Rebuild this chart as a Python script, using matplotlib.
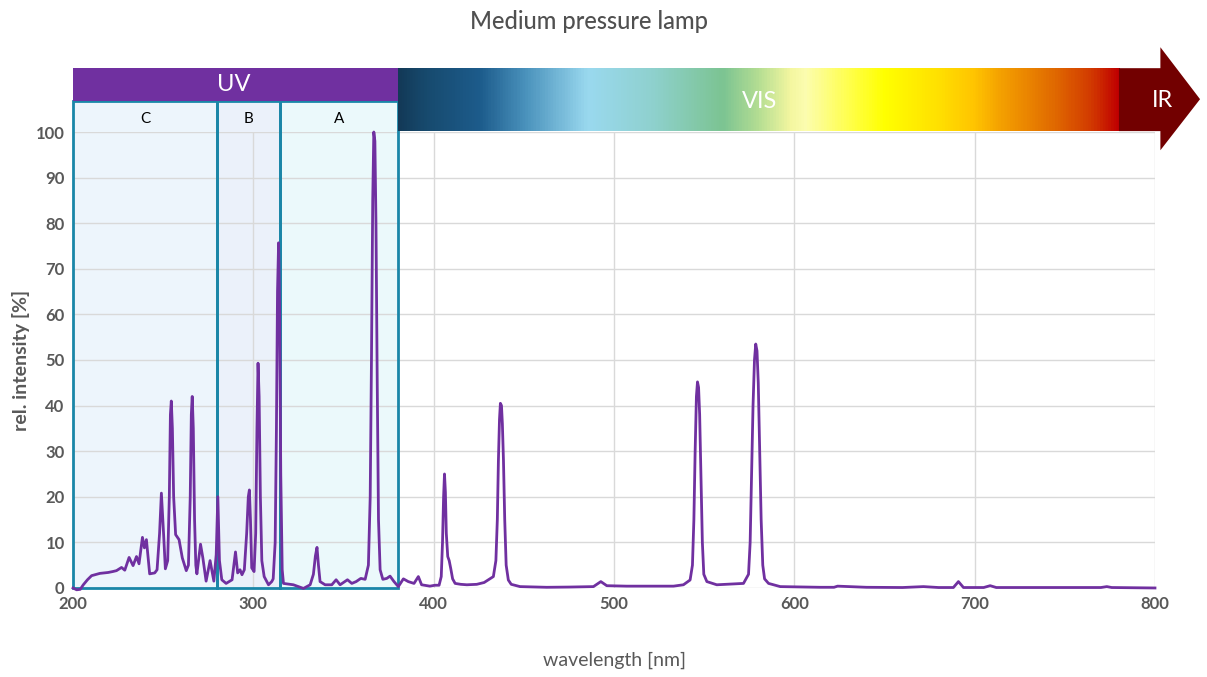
import numpy as np
import matplotlib
matplotlib.use('Agg')
import matplotlib.pyplot as plt
from matplotlib.colors import LinearSegmentedColormap
from matplotlib.patches import Rectangle, Polygon

plt.rcParams['font.family'] = ['Lato', 'DejaVu Sans']

# spectrum (wavelength nm, rel. intensity %)
wavelength = [
    200, 202, 204, 205.7, 208, 210.3, 213, 214.9, 217, 219.5, 222, 224.1, 226.9, 228.7,
    231.1, 233.3, 235.2, 236.6, 238.5, 239.6, 240.7, 242.5, 245.3, 246.6, 248, 249, 250.2,
    251.2, 252.5, 253.4, 254, 254.5, 255.1, 255.8, 256.9, 258.8, 260.6, 262.8,
    264, 265, 265.6, 266.1, 266.7, 267.4, 268.1, 268.7,
    270.7, 272, 273.8, 276, 278.1, 279.4, 280.3, 281.2, 282.5, 284.9, 288.2, 290.1, 291.3,
    292.6, 293.7, 295, 296.3, 297.2, 297.8, 298.4, 299.1,
    300.4, 301.3, 302, 302.6, 303.2, 303.9, 304.7, 306, 308.4, 310.2,
    311, 312.1, 312.8, 313.4, 314.0, 314.6, 315.2, 316, 316.7,
    322.2, 327.8, 331.5, 333.3, 334.4, 335.3, 336.1, 337, 339.8,
    343.5, 345.9, 348.1, 352.2, 354.6, 357, 359.6, 362,
    363.8, 364.8, 365.5, 366.2, 366.8, 367.4, 368.0, 368.7, 369.4, 370.3, 371.8,
    374, 375.8, 378, 380.4, 383.2, 385.9, 389.1, 391.5, 393.3, 397.9,
    400.7, 403, 404.2, 404.9, 405.5, 406.0, 406.5, 407.0, 407.8, 408.6, 409.5, 410.5, 411.9,
    415, 418.4, 423.9, 428,
    433.1, 434.5, 435.3, 435.9, 436.5, 437.0, 437.6, 438.1, 438.7, 439.4, 440.2, 441.4, 443,
    447.9, 462.7, 475, 488.6, 492.7, 496, 507, 515, 533, 538.5,
    542.2, 543.5, 544.3, 545.0, 545.7, 546.3, 546.9, 547.5, 548.2, 549.0, 549.8, 551.5,
    557, 567.2, 571.8,
    574.6, 575.5, 576.3, 577.1, 577.9, 578.6, 579.3, 580.0, 580.8, 581.6, 582.5, 583.5, 585.7,
    592.2, 614.4, 622, 624,
    640, 660, 671.6, 680, 688.2, 691, 693.8, 705, 708.6, 712, 740, 770, 773.3, 776, 800,
]
intensity = [
    0.0, -0.4, -0.3, 0.7, 1.8, 2.7, 3.0, 3.2, 3.3, 3.4, 3.6, 3.8, 4.5, 3.9,
    6.7, 4.9, 6.9, 5.3, 11.1, 8.8, 10.6, 3.1, 3.3, 4.0, 12.0, 20.8, 12.0,
    4.2, 6.0, 20.0, 38.0, 41.0, 35.0, 20.0, 11.7, 10.6, 6.6, 3.8,
    5.0, 20.0, 38.0, 42.0, 35.0, 15.0, 5.0, 3.1,
    9.6, 6.6, 1.5, 6.0, 1.5, 7.3, 20.0, 6.0, 1.8, 1.0, 1.8, 7.9, 3.3,
    4.0, 2.9, 4.0, 12.0, 20.0, 21.5, 15.0, 4.4,
    3.6, 12.0, 35.0, 49.3, 42.0, 20.0, 6.0, 2.5, 0.7, 1.4,
    2.0, 10.0, 35.0, 65.0, 75.7, 60.0, 25.0, 4.0, 1.0,
    0.7, -0.1, 0.7, 3.0, 7.0, 8.9, 5.0, 1.4, 0.7,
    0.7, 1.8, 0.7, 1.8, 1.0, 1.4, 2.1, 1.9,
    5.0, 20.0, 50.0, 85.0, 100.0, 98.0, 80.0, 45.0, 15.0, 4.0, 1.9,
    2.1, 2.6, 1.4, 0.3, 2.0, 1.4, 1.0, 2.5, 0.7, 0.4,
    0.6, 0.6, 2.5, 10.0, 20.0, 25.0, 21.0, 12.0, 6.9, 6.0, 4.2, 2.0, 1.0,
    0.8, 0.7, 0.8, 1.2,
    2.5, 6.0, 15.0, 28.0, 37.0, 40.5, 40.0, 36.0, 28.0, 15.0, 5.0, 1.75, 0.8,
    0.3, 0.15, 0.2, 0.3, 1.4, 0.5, 0.4, 0.4, 0.4, 0.7,
    1.75, 5.0, 15.0, 30.0, 42.0, 45.2, 44.0, 38.0, 25.0, 10.0, 3.0, 1.4,
    0.7, 0.9, 1.0,
    3.0, 10.0, 25.0, 40.0, 50.0, 53.5, 52.0, 45.0, 30.0, 15.0, 5.0, 2.0, 1.0,
    0.3, 0.15, 0.15, 0.4,
    0.15, 0.1, 0.3, 0.1, 0.1, 1.4, 0.1, 0.1, 0.5, 0.1, 0.1, 0.1, 0.3, 0.1, 0.0,
]

# UV sub-bands and spectral ranges
uv_bands = ['C', 'B', 'A']
uv_edges = [200, 280, 315, 380]
vis_range = [380, 780]

purple = '#7030A0'
teal = '#1A86A8'
gray = '#595959'

fig = plt.figure(figsize=(12.07, 6.77), dpi=100)
ax = fig.add_axes([0.0605, 0.1315, 0.8964, 0.6735])
ax.set_xlim(200, 800)
ax.set_ylim(0, 100)

ax.set_xticks(np.arange(200, 801, 100))
ax.set_yticks(np.arange(0, 101, 10))
ax.grid(True, color='#D9D9D9', linewidth=1.0)
ax.set_axisbelow(True)
for s in ax.spines.values():
    s.set_visible(False)
ax.tick_params(length=0, labelsize=12, labelcolor=gray, pad=6)
for lab in ax.get_xticklabels() + ax.get_yticklabels():
    lab.set_fontweight('bold')

# UV region boxes
box_top = 106.8
fills = ['#EDF5FC', '#EBF1FA', '#EBF9FB']
for i, name in enumerate(uv_bands):
    x0, x1 = uv_edges[i], uv_edges[i + 1]
    ax.add_patch(Rectangle((x0, 0), x1 - x0, box_top, facecolor=fills[i],
                           edgecolor='none', clip_on=False, zorder=0.5))
    ax.text((x0 + x1) / 2, 102.8, name, ha='center', va='center', fontsize=11,
            color='black', zorder=4)
for i, name in enumerate(uv_bands):
    x0, x1 = uv_edges[i], uv_edges[i + 1]
    ax.add_patch(Rectangle((x0, 0), x1 - x0, box_top, facecolor='none',
                           edgecolor=teal, linewidth=2.0, clip_on=False, zorder=3))

# UV bar
ax.add_patch(Rectangle((uv_edges[0], box_top), uv_edges[-1] - uv_edges[0], 114.0 - box_top,
                       facecolor=purple, edgecolor='none', clip_on=False, zorder=3))
ax.text(289, 110.4, 'UV', ha='center', va='center', fontsize=17, color='white', zorder=4)

# visible gradient
stops = [
    (380, '#133A58'), (395, '#174A6E'), (425, '#1D5C8C'), (450, '#4A92BC'),
    (485, '#9AD9EF'), (520, '#8FD1CF'), (560, '#7CC492'), (580, '#B5DE93'),
    (598, '#F4F7A0'), (606, '#FCFDB0'), (625, '#FFFF60'), (650, '#FFFF00'),
    (680, '#FFE000'), (700, '#FFC400'), (715, '#F4A000'), (745, '#E06800'),
    (765, '#D23A00'), (780, '#C00000'),
]
cmap = LinearSegmentedColormap.from_list(
    'vis', [((w - 380) / 400, c) for w, c in stops])
grad = np.linspace(0, 1, 800).reshape(1, -1)
im = ax.imshow(grad, cmap=cmap, aspect='auto', extent=[vis_range[0], vis_range[1], 100.2, 114.0],
               zorder=3, clip_on=False)
im.set_clip_on(False)
ax.text(581, 106.8, 'VIS', ha='center', va='center', fontsize=17, color='white', zorder=4)

# IR arrow
ax.add_patch(Polygon([(780, 100.2), (803, 100.2), (803, 96.0), (825, 107.2),
                      (803, 118.6), (803, 114.0), (780, 114.0)],
                     closed=True, facecolor='#720000', edgecolor='none',
                     clip_on=False, zorder=3))
ax.text(804, 107.0, 'IR', ha='center', va='center', fontsize=17, color='white', zorder=4)

# spectrum
ax.plot(wavelength, intensity, color=purple, linewidth=2.0, zorder=5, clip_on=False,
        solid_joinstyle='round')

ax.set_xlim(200, 800)
ax.set_ylim(0, 100)
ax.set_xlabel('wavelength [nm]', fontsize=14, color=gray, labelpad=28)
ax.set_ylabel('rel. intensity [%]', fontsize=14, color=gray, fontweight='bold', labelpad=4)
fig.text(0.488, 0.968, 'Medium pressure lamp', ha='center', va='center', fontsize=17,
         color='#505050', fontweight='medium')

fig.savefig('out.png', dpi=100)
